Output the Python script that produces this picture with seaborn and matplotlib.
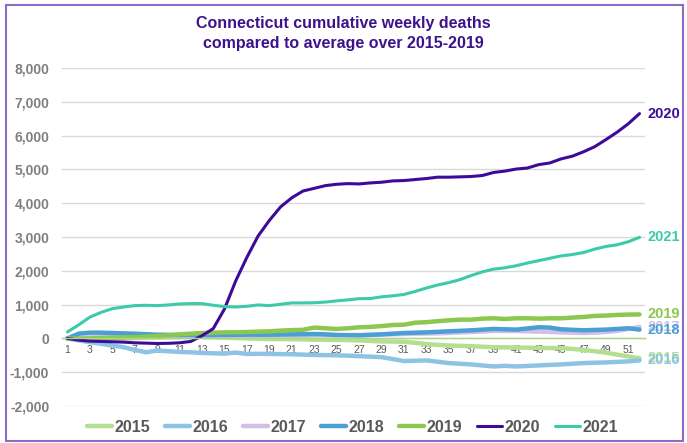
import matplotlib
matplotlib.use("Agg")
import matplotlib.pyplot as plt
import seaborn as sns
import pandas as pd
from matplotlib.patches import Rectangle
from matplotlib.ticker import FuncFormatter

weeks = list(range(1, 53))
years = ["2015", "2016", "2017", "2018", "2019", "2020", "2021"]

y2015 = [0, -5, -10, -10, -5, 0, 10, 20, 25, 30, 35, 40, 40, 35, 20, 10, 0, -10, -20, -20,
         -25, -30, -40, -40, -45, -50, -60, -75, -90, -95, -100, -130, -170, -190, -210, -220,
         -230, -245, -260, -265, -270, -275, -280, -285, -290, -310, -340, -380, -420, -480, -535, -585]
y2016 = [0, -60, -110, -160, -210, -260, -340, -410, -360, -380, -400, -410, -430, -440, -450, -420,
         -460, -455, -460, -465, -470, -480, -490, -495, -500, -510, -525, -540, -555, -610, -670, -660,
         -650, -690, -730, -750, -770, -800, -830, -810, -830, -815, -800, -785, -770, -750, -730, -720,
         -710, -695, -680, -650]
y2017 = [0, 15, 30, 40, 50, 55, 60, 65, 70, 75, 80, 80, 80, 85, 85, 85, 90, 90, 90, 90,
         90, 95, 95, 100, 100, 100, 100, 105, 110, 120, 130, 140, 145, 150, 160, 175, 190, 205,
         220, 220, 220, 210, 200, 190, 180, 170, 160, 170, 190, 220, 280, 340]
y2018 = [0, 140, 170, 170, 160, 150, 140, 125, 110, 105, 100, 100, 100, 100, 100, 105, 110, 110,
         110, 115, 120, 125, 130, 120, 100, 95, 90, 105, 120, 140, 160, 170, 180, 195, 210, 225,
         240, 260, 280, 270, 260, 295, 330, 320, 270, 255, 240, 250, 260, 280, 300, 260]
y2019 = [0, -5, 0, 10, 20, 30, 40, 55, 70, 90, 120, 140, 160, 170, 180, 180, 190, 200, 210, 230,
         245, 255, 320, 300, 280, 300, 330, 340, 365, 395, 405, 465, 480, 510, 535, 555, 555, 585,
         595, 575, 595, 595, 585, 595, 595, 615, 635, 665, 675, 695, 705, 710]
y2020 = [0, -50, -80, -90, -100, -110, -130, -140, -150, -145, -130, -90, 80, 290, 870, 1700, 2400,
         3030, 3490, 3890, 4160, 4360, 4440, 4520, 4560, 4580, 4570, 4600, 4620, 4660, 4670, 4700,
         4730, 4770, 4770, 4780, 4790, 4820, 4910, 4950, 5010, 5040, 5140, 5190, 5310, 5390, 5520,
         5670, 5880, 6100, 6350, 6650]
y2021 = [190, 400, 630, 770, 880, 930, 970, 980, 970, 990, 1020, 1030, 1030, 980, 940, 930, 950,
         990, 970, 1010, 1050, 1050, 1055, 1075, 1110, 1140, 1175, 1180, 1230, 1260, 1300, 1390,
         1490, 1580, 1650, 1740, 1860, 1970, 2050, 2090, 2150, 2230, 2300, 2370, 2440, 2480, 2540,
         2640, 2720, 2770, 2860, 2990]

series = [y2015, y2016, y2017, y2018, y2019, y2020, y2021]
colors = ["#b5df90", "#8ec3e4", "#d2bfe6", "#4a9fd5", "#8cc74f", "#3d0a9a", "#3ccaa8"]
widths = [3.2, 3.2, 3.2, 3.2, 3.2, 2.2, 2.2]

df = pd.DataFrame({"week": weeks * len(years),
                   "year": [y for y in years for _ in weeks],
                   "deaths": [v for s in series for v in s]})

sns.set_style("white")
plt.rcParams["font.family"] = ["Liberation Sans", "DejaVu Sans"]

fig = plt.figure(figsize=(6.87, 4.43), dpi=100)
ax = fig.add_axes([0.090, 0.0835, 0.849, 0.763])

handles = []
for yr, col, lw in zip(years, colors, widths):
    d = df[df["year"] == yr]
    sns.lineplot(data=d, x="week", y="deaths", color=col, lw=lw, ax=ax,
                 solid_capstyle="round", label=yr, legend=False)
    handles.append(ax.lines[-1])
    last = d["deaths"].iloc[-1]
    # end-of-line labels (2015/2016 and 2017/2018 overlap, as in the original)
    ax.annotate(yr, xy=(52, last), xytext=(6, 0), textcoords="offset points",
                va="center", ha="left", color=col, fontsize=10.5, fontweight="bold",
                annotation_clip=False)

ax.set_xlim(0.5, 52.5)
ax.set_ylim(-2000, 8000)
ax.set_yticks(range(-2000, 8001, 1000))
ax.yaxis.set_major_formatter(FuncFormatter(lambda v, p: f"{int(v):,}"))
ax.set_xticks(range(1, 53, 2))
ax.grid(axis="y", color="#d9d9d9", lw=1)
ax.set_axisbelow(True)
ax.set_xlabel("")
ax.set_ylabel("")

for s in ["top", "right", "left"]:
    ax.spines[s].set_visible(False)
ax.spines["bottom"].set_position(("data", 0))
ax.spines["bottom"].set_color("#a9d68a")
ax.spines["bottom"].set_linewidth(1)

ax.tick_params(axis="x", length=0, labelsize=7.5, labelcolor="#595959", pad=5)
ax.tick_params(axis="y", length=0, labelsize=10, labelcolor="#7f7f7f", pad=9)
for t in ax.get_yticklabels():
    t.set_fontweight("bold")

fig.text(0.5, 0.925, "Connecticut cumulative weekly deaths\ncompared to average over 2015-2019",
         ha="center", va="center", fontsize=11.5, fontweight="bold", color="#3c138c",
         linespacing=1.4)

leg = fig.legend(handles=handles, labels=years, loc="center", bbox_to_anchor=(0.513, 0.036),
                 ncol=7, frameon=False, handlelength=1.6, handletextpad=0.15,
                 columnspacing=0.9, prop={"weight": "bold", "size": 11.5})
for t in leg.get_texts():
    t.set_color("#595959")

fig.patches.append(Rectangle((0.0087, 0.0045), 0.985, 0.984, transform=fig.transFigure,
                             fill=False, edgecolor="#8d6cc9", lw=1.5))

fig.savefig("out.png", dpi=100)
